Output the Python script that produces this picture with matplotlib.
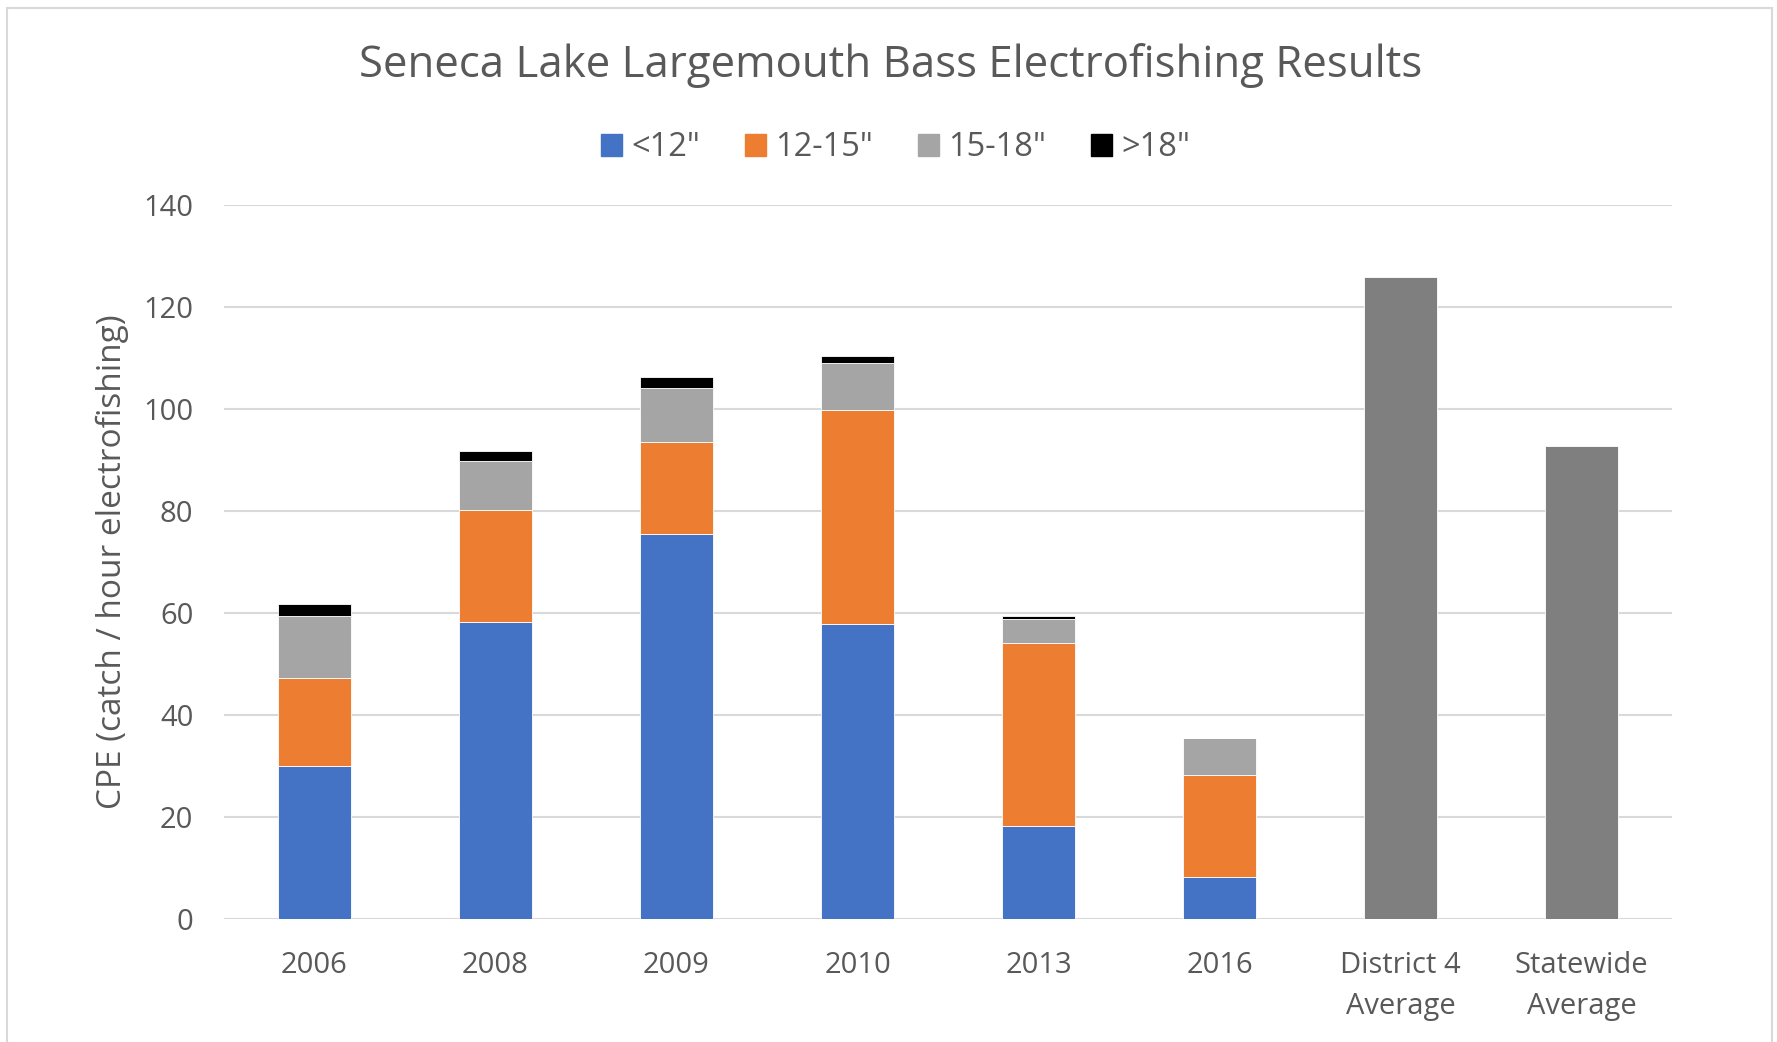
import matplotlib.pyplot as plt
import numpy as np
from matplotlib.patches import Rectangle

plt.rcParams['font.family'] = ['Open Sans', 'DejaVu Sans']

# survey years and the two reference averages
years = ['2006', '2008', '2009', '2010', '2013', '2016']
avg_labels = ['District 4\nAverage', 'Statewide\nAverage']

# CPE by length group
under_12 = [30.0, 58.2, 75.5, 57.9, 18.3, 8.2]
from_12_15 = [17.3, 22.0, 18.0, 41.8, 35.8, 20.0]
from_15_18 = [12.2, 9.6, 10.6, 9.2, 4.8, 7.3]
over_18 = [2.3, 2.0, 2.1, 1.4, 0.6, 0.0]
avg_values = [125.9, 92.7]

series_names = ['<12"', '12-15"', '15-18"', '>18"']
series_colors = ['#4472C4', '#ED7D31', '#A5A5A5', '#000000']
text_color = '#595959'

fig = plt.figure(figsize=(17.77, 10.42), dpi=100)
ax = fig.add_axes([0.126, 0.1178, 0.815, 0.6857])

width = 0.4
bottom = np.zeros(len(years))
for vals, name, col in zip([under_12, from_12_15, from_15_18, over_18],
                           series_names, series_colors):
    ax.bar(years, vals, width, bottom=bottom, color=col, label=name,
           edgecolor='white', linewidth=0.6, zorder=3)
    bottom += np.array(vals)
ax.bar(avg_labels, avg_values, width, color='#7F7F7F',
       edgecolor='white', linewidth=0.6, zorder=3)

ax.set_xlim(-0.5, 7.5)
ax.set_ylim(0, 140)
ax.set_yticks(range(0, 141, 20))
ax.yaxis.grid(True, color='#D9D9D9', linewidth=1.5, zorder=0)
for s in ax.spines.values():
    s.set_visible(False)
ax.tick_params(axis='both', length=0, labelsize=21, colors=text_color)
ax.tick_params(axis='x', pad=23)
ax.tick_params(axis='y', pad=22)
for lbl in ax.get_xticklabels():
    lbl.set_linespacing(1.55)
ax.set_ylabel('CPE (catch / hour electrofishing)', fontsize=24,
              color=text_color, labelpad=10)

fig.text(0.501, 0.937, 'Seneca Lake Largemouth Bass Electrofishing Results',
         ha='center', va='center', fontsize=31.5, color=text_color)

handles = [Rectangle((0, 0), 1, 1, color=c) for c in series_colors]
fig.legend(handles, series_names, loc='center', bbox_to_anchor=(0.504, 0.858),
           ncol=4, frameon=False, fontsize=23.5, labelcolor=text_color,
           handlelength=0.65, handleheight=0.65, handletextpad=0.3,
           columnspacing=1.35)

# light frame round the chart area
fig.add_artist(Rectangle((0.004, -0.01), 0.993, 1.002, transform=fig.transFigure,
                         fill=False, edgecolor='#D9D9D9', linewidth=1.5))

fig.savefig('out.png', dpi=100)
